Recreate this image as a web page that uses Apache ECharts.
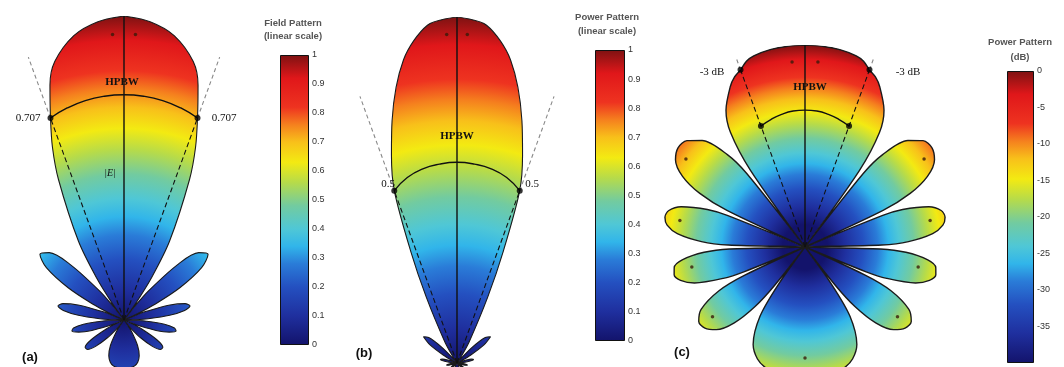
<!DOCTYPE html>
<html><head><meta charset="utf-8">
<script src="https://cdn.jsdelivr.net/npm/echarts@6/dist/echarts.min.js"></script>
<style>html,body{margin:0;padding:0;background:#fff}#c{width:1064px;height:367px}</style>
</head><body><div id="c"></div>
<script>
// ---- data: angle from boresight (deg), half pattern 0..180 (pattern is symmetric) ----
const angles = [0,5,10,15,17.5,20,22.5,25,30,33,35.4,36.9,38.4,40,44,48,52,56,60,63,64.9,66.4,67.9,69,72,75,78,81,84,87,88.5,90,91.5,93,96,99,102,105,108,111,112.1,113.6,115.1,117,121,125,129,133,137,140,141.6,143.1,144.6,147,152,157,162,167,172,176,180];
// (a) normalized field pattern (linear)
const fieldA = [1.000,0.985,0.950,0.880,0.810,0.707,0.615,0.510,0.300,0.167,0.062,0,0.062,0.123,0.251,0.331,0.351,0.308,0.212,0.116,0.052,0,0.048,0.082,0.159,0.208,0.222,0.202,0.151,0.080,0.040,0,0.039,0.075,0.134,0.168,0.175,0.154,0.111,0.053,0.031,0,0.031,0.067,0.126,0.156,0.154,0.126,0.080,0.041,0.020,0,0.019,0.047,0.095,0.128,0.146,0.155,0.158,0.158,0.158];
// (b) normalized power pattern (linear)
const powerB = [1.000,0.980,0.890,0.725,0.630,0.530,0.350,0.210,0.070,0.024,0.004,0,0.004,0.015,0.063,0.110,0.123,0.095,0.045,0.0135,0.003,0,0.002,0.007,0.025,0.043,0.049,0.041,0.023,0.006,0.002,0,0.002,0.006,0.018,0.028,0.031,0.024,0.012,0.003,0.001,0,0.001,0.0045,0.016,0.024,0.024,0.016,0.0065,0.0017,0.0004,0,0.0003,0.0022,0.009,0.016,0.021,0.024,0.025,0.025,0.025];
// (c) power pattern in dB
const powerDbC = [0,-0.1,-0.35,-0.9,-1.6,-3.0,-4.0,-5.6,-9.8,-14.5,-24.1,-45,-24.1,-18.2,-12.0,-9.6,-9.1,-10.2,-13.5,-18.7,-25.8,-45,-26.3,-21.7,-16.0,-13.6,-13.1,-13.9,-16.4,-21.9,-27.9,-45,-28.2,-22.5,-17.5,-15.5,-15.2,-16.3,-19.1,-25.5,-30.3,-45,-30.2,-23.5,-18.0,-16.1,-16.3,-18.0,-21.9,-27.7,-34.0,-45,-34.6,-26.6,-20.4,-17.9,-16.7,-16.2,-16.0,-16.0,-16.0];
// HPBW annotations: [angle, value]
const hpbwArcA = [[20,0.707],[15,0.722],[10,0.733],[5,0.739],[0,0.741]];
const hpbwArcB = [[20,0.53],[15,0.555],[10,0.57],[5,0.577],[0,0.58]];
const hpbwArcC = [[20,-16.3],[15,-15.6],[10,-15.0],[5,-14.6],[0,-14.5]];
const halfPowerA = 0.707, halfPowerB = 0.53, halfPowerC = -3;
const halfAngle = 20;
const peakMarksA = [[2.3,0.94]];
const peakMarksB = [[1.8,0.95]];
const peakMarksC = [[4,-3.7],[53.5,-12],[78,-16.5],[100,-19.4],[127,-19.2],[180,-20.3]];
// colorbar ticks
const linearTicks = [0,0.1,0.2,0.3,0.4,0.5,0.6,0.7,0.8,0.9,1];
const dbTicks = [0,-5,-10,-15,-20,-25,-30,-35];

// ---- style ----
const JET = [[0,'#13136b'],[0.1,'#1f2f9e'],[0.2,'#2450c0'],[0.28,'#2a7cd8'],[0.34,'#31b5ea'],[0.4,'#4fc7d6'],[0.48,'#72cba0'],[0.56,'#b6db4a'],[0.63,'#f3ea12'],[0.7,'#f8c01a'],[0.76,'#f5801e'],[0.82,'#ee3320'],[0.92,'#e0171a'],[1,'#7e1212']];
const P = [
  {c:[124,320], r:304, min:0, max:1, cmin:0, cmax:1},
  {c:[457,363], r:346, min:0, max:1, cmin:0, cmax:1},
  {c:[805,247], r:202, min:-45, max:0, cmin:-40, cmax:0}
];
function radialGrad(p){
  const stops=[];
  JET.forEach(([t,col])=>{
    const v=p.cmin+(p.cmax-p.cmin)*t;
    stops.push({offset:(v-p.min)/(p.max-p.min), color:col});
  });
  if(stops[0].offset>0) stops.unshift({offset:0,color:JET[0][1]});
  return {type:'radial', x:p.c[0], y:p.c[1], r:p.r, global:true, colorStops:stops};
}
function loop(vals){
  const pts=angles.map((a,i)=>[vals[i],a]);
  for(let i=angles.length-2;i>=0;i--) pts.push([vals[i],360-angles[i]]);
  return pts;
}
function mirrorPairs(list){
  const right=list.map(([a,v])=>[v,a]);
  const left=list.slice().reverse().map(([a,v])=>[v,(360-a)%360]);
  return right.concat(left.slice(1));
}
function pline(pi,data,ls,extra){
  return Object.assign({type:'line',coordinateSystem:'polar',polarIndex:pi,data:data,symbol:'none',silent:true,
    lineStyle:ls,z:4},extra||{});
}
const series=[];
const patterns=[fieldA,powerB,powerDbC];
const arcs=[hpbwArcA,hpbwArcB,hpbwArcC];
const hp=[halfPowerA,halfPowerB,halfPowerC];
const outerDash=[0.92,0.82,0];
const marks=[peakMarksA,peakMarksB,peakMarksC];
patterns.forEach((vals,pi)=>{
  const p=P[pi];
  series.push(pline(pi,loop(vals),{color:'#1b1b1b',width:pi===2?1.4:1.1},
    {smooth:0.3,z:2,areaStyle:{origin:'start',opacity:1,color:radialGrad(p)}}));
  series.push(pline(pi,[[p.min,0],[p.max,0]],{color:'#111',width:1.4}));
  [halfAngle,360-halfAngle].forEach(a=>{
    series.push(pline(pi,[[p.min,a],[hp[pi],a]],{color:'#111',width:1.1,type:[5,3]}));
    series.push(pline(pi,[[hp[pi],a],[outerDash[pi],a]],{color:'#888',width:1.1,type:[4,3]}));
  });
  series.push(pline(pi,mirrorPairs(arcs[pi]),{color:'#111',width:1.4},{smooth:0.5}));
  const dots=[[hp[pi],halfAngle],[hp[pi],360-halfAngle]];
  if(pi===2){ dots.push([arcs[2][0][1],halfAngle],[arcs[2][0][1],360-halfAngle]); }
  series.push({type:'scatter',coordinateSystem:'polar',polarIndex:pi,data:dots,symbolSize:6,
    itemStyle:{color:'#000'},silent:true,z:6});
  const mk=[];
  marks[pi].forEach(([a,v])=>{mk.push([v,a]); if(a>0&&a<180) mk.push([v,360-a]);});
  series.push({type:'scatter',coordinateSystem:'polar',polarIndex:pi,data:mk,symbolSize:3.5,
    itemStyle:{color:'#3a1a0a'},silent:true,z:6});
});

// colorbars
const CB=[
  {left:280,top:55,width:29,height:290,min:0,max:1,interval:0.1,val:1},
  {left:595,top:50,width:30,height:291,min:0,max:1,interval:0.1,val:1},
  {left:1007,top:71,width:27,height:292,min:-40,max:0,interval:5,val:-40}
];
const barStops=JET.map(([t,c])=>({offset:1-t,color:c})).reverse();
const grids=[],xAxes=[],yAxes=[];
CB.forEach((b,i)=>{
  grids.push({left:b.left,top:b.top,width:b.width,height:b.height});
  xAxes.push({gridIndex:i,type:'category',data:['bar'],show:false});
  yAxes.push({gridIndex:i,position:'right',min:b.min,max:b.max,interval:b.interval,z:5,
    axisLine:{show:false},splitLine:{show:false},
    axisTick:{inside:true,length:3,lineStyle:{color:'#222',width:1}},
    axisLabel:{fontSize:9,color:'#333',margin:3,fontFamily:'Arial, Liberation Sans, sans-serif',showMinLabel:i!==2,
      formatter:v=>{const t=(i===2?dbTicks:linearTicks).find(x=>Math.abs(x-v)<1e-6);return t===undefined?'':String(t);}}});
  yAxes.push({gridIndex:i,position:'left',min:b.min,max:b.max,interval:b.interval,z:5,
    axisLine:{show:false},splitLine:{show:false},axisLabel:{show:false},
    axisTick:{inside:true,length:3,lineStyle:{color:'#222',width:1}}});
  series.push({type:'bar',xAxisIndex:i,yAxisIndex:i*2,data:[b.val],barWidth:'100%',silent:true,z:2,
    itemStyle:{borderColor:'#111',borderWidth:1,color:{type:'linear',x:0,y:0,x2:0,y2:1,colorStops:barStops}}});
});

const serif='"Liberation Serif","DejaVu Serif",serif';
const sans='Arial,"Liberation Sans",sans-serif';
function txt(x,y,t,font,extra){
  return {type:'text',x:x,y:y,z:10,style:Object.assign({text:t,font:font,fill:'#111',align:'center',verticalAlign:'middle'},extra||{})};
}
const graphic=[
  txt(122,82,'HPBW','bold 11px '+serif),
  txt(28,118,'0.707','11px '+serif),
  txt(224,118,'0.707','11px '+serif),
  txt(110,173,'|E|','italic 10px '+serif),
  txt(30,357,'(a)','bold 13px '+sans),
  txt(457,136,'HPBW','bold 11px '+serif),
  txt(388,184,'0.5','11px '+serif),
  txt(532,184,'0.5','11px '+serif),
  txt(364,353,'(b)','bold 13px '+sans),
  txt(810,87,'HPBW','bold 11px '+serif),
  txt(712,72,'-3 dB','11px '+serif),
  txt(908,72,'-3 dB','11px '+serif),
  txt(682,352,'(c)','bold 13px '+sans),
  txt(293,23,'Field Pattern','bold 9.5px '+sans,{fill:'#555'}),
  txt(293,36,'(linear scale)','bold 9.5px '+sans,{fill:'#555'}),
  txt(607,17,'Power Pattern','bold 9.5px '+sans,{fill:'#555'}),
  txt(607,31,'(linear scale)','bold 9.5px '+sans,{fill:'#555'}),
  txt(1020,42,'Power Pattern','bold 9.5px '+sans,{fill:'#555'}),
  txt(1020,57,'(dB)','bold 9.5px '+sans,{fill:'#555'})
];

const chart=echarts.init(document.getElementById('c'));
chart.setOption({
  animation:false,
  backgroundColor:'#fff',
  polar:P.map(p=>({center:p.c,radius:p.r})),
  angleAxis:P.map((p,i)=>({polarIndex:i,type:'value',min:0,max:360,startAngle:90,clockwise:true,show:false})),
  radiusAxis:P.map((p,i)=>({polarIndex:i,type:'value',min:p.min,max:p.max,show:false})),
  grid:grids,xAxis:xAxes,yAxis:yAxes,
  series:series,
  graphic:graphic
});
</script></body></html>
